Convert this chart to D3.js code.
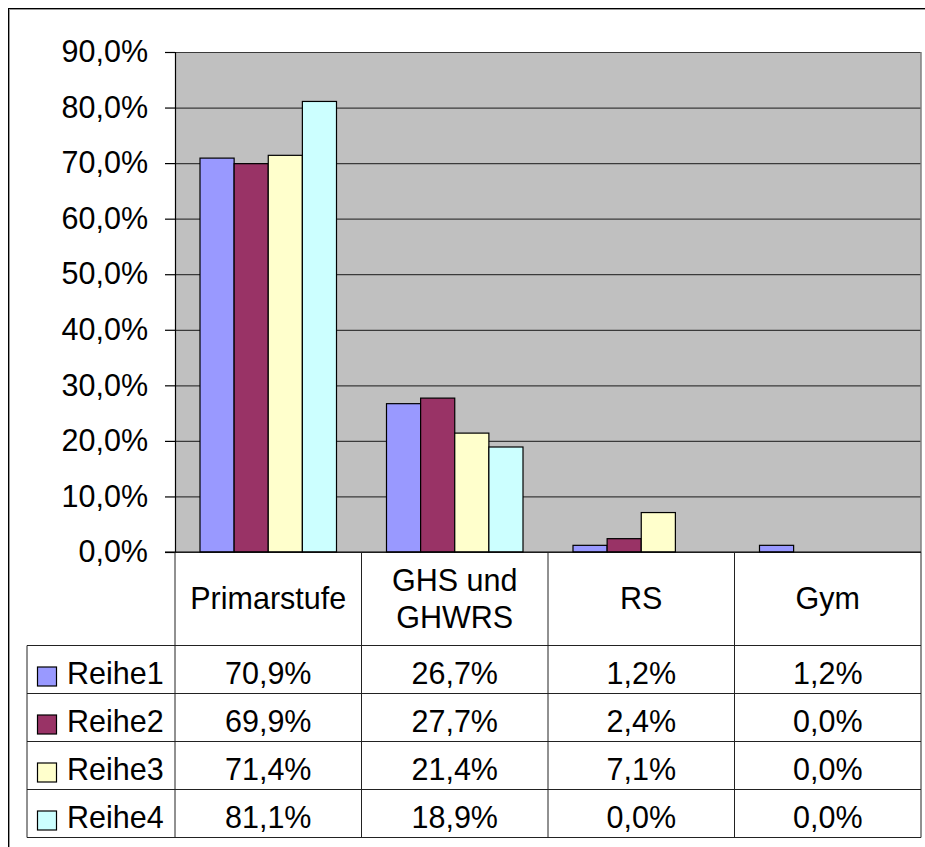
<!DOCTYPE html>
<html>
<head>
<meta charset="utf-8">
<script src="https://cdn.jsdelivr.net/npm/d3@7"></script>
<style>
  html, body { margin: 0; padding: 0; background: #fff; }
  svg { display: block; font-family: 'Liberation Sans', Arial, sans-serif; }
</style>
</head>
<body>
<div id="chart"></div>
<script>
// data
let categories = ['Primarstufe', 'GHS und\nGHWRS', 'RS', 'Gym'];
let seriesNames = ['Reihe1', 'Reihe2', 'Reihe3', 'Reihe4'];
let reihe1 = [0.709, 0.267, 0.012, 0.012];
let reihe2 = [0.699, 0.277, 0.024, 0.0];
let reihe3 = [0.714, 0.214, 0.071, 0.0];
let reihe4 = [0.811, 0.189, 0.0, 0.0];
let yTicks = [0, 0.1, 0.2, 0.3, 0.4, 0.5, 0.6, 0.7, 0.8, 0.9];
let colors = ['#9999ff', '#993366', '#ffffcc', '#ccffff'];

let series = [reihe1, reihe2, reihe3, reihe4];

let W = 925, H = 847;
let plot = { left: 175, right: 921, top: 52, bottom: 552 };
let table = { left: 27, header: 645.5, rowH: 48 };
let fontSize = 30.5;

let locale = d3.formatLocale({ decimal: ',', thousands: '.', grouping: [3], currency: ['', '€'] });
let pct = locale.format('.1%');

const svg = d3.select('#chart').append('svg')
  .attr('width', W).attr('height', H);

// outer frame (runs off right / bottom)
svg.append('rect')
  .attr('x', 9.5).attr('y', 9.5).attr('width', 1000).attr('height', 1000)
  .attr('fill', 'none').attr('stroke', '#999').attr('stroke-width', 1);
svg.append('rect')
  .attr('x', 8.5).attr('y', 8.5).attr('width', 1000).attr('height', 1000)
  .attr('fill', 'none').attr('stroke', '#000').attr('stroke-width', 1);

let y = d3.scaleLinear().domain([0, 0.9]).range([plot.bottom, plot.top]);

let x0 = d3.scaleBand().domain(d3.range(categories.length))
  .range([plot.left, plot.right]);

let x1 = d3.scaleBand().domain(d3.range(seriesNames.length))
  .range([25, x0.bandwidth() - 25]);

// plot background
svg.append('rect')
  .attr('x', plot.left).attr('y', plot.top)
  .attr('width', plot.right - plot.left).attr('height', plot.bottom - plot.top)
  .attr('fill', '#c0c0c0');

// gridlines
svg.append('g').attr('class', 'grid')
  .attr('transform', `translate(${plot.left},0)`)
  .call(d3.axisLeft(y).tickValues(yTicks).tickSize(-(plot.right - plot.left)).tickFormat(''))
  .call((g) => g.select('.domain').remove())
  .call((g) => g.selectAll('line').attr('stroke', '#3a3a3a').attr('stroke-width', 1.2));

// bars
let bars = [];
series.forEach((vals, s) => {
  vals.forEach((v, c) => bars.push({ s: s, c: c, v: v }));
});

svg.append('g').attr('class', 'bars')
  .selectAll('rect')
  .data(bars.filter((d) => d.v > 0))
  .join('rect')
  .attr('x', (d) => x0(d.c) + x1(d.s))
  .attr('y', (d) => y(d.v))
  .attr('width', x1.bandwidth())
  .attr('height', (d) => y(0) - y(d.v))
  .attr('fill', (d) => colors[d.s])
  .attr('stroke', '#000')
  .attr('stroke-width', 1.2);

// plot right border
svg.append('line')
  .attr('x1', plot.right).attr('x2', plot.right)
  .attr('y1', plot.top).attr('y2', plot.bottom)
  .attr('stroke', '#808080').attr('stroke-width', 1.5);

// y axis
svg.append('g').attr('class', 'y-axis')
  .attr('transform', `translate(${plot.left},0)`)
  .call(d3.axisLeft(y).tickValues(yTicks).tickSize(10).tickPadding(17).tickFormat(pct))
  .call((g) => g.select('.domain').attr('stroke', '#000').attr('stroke-width', 1.2))
  .call((g) => g.selectAll('line').attr('stroke', '#000').attr('stroke-width', 1.2))
  .call((g) => g.selectAll('text')
    .attr('font-size', fontSize).attr('fill', '#000')
    .attr('font-family', "'Liberation Sans', Arial, sans-serif"));

// data table
let tableBottom = table.header + table.rowH * seriesNames.length;
let tg = svg.append('g').attr('class', 'table');

// axis line / table top
tg.append('line')
  .attr('x1', plot.left - 10).attr('x2', plot.right)
  .attr('y1', plot.bottom).attr('y2', plot.bottom)
  .attr('stroke', '#000').attr('stroke-width', 1.2);

// horizontal row lines
tg.selectAll('.hline')
  .data(d3.range(seriesNames.length + 1))
  .join('line')
  .attr('class', 'hline')
  .attr('x1', table.left).attr('x2', plot.right)
  .attr('y1', (i) => table.header + i * table.rowH)
  .attr('y2', (i) => table.header + i * table.rowH)
  .attr('stroke', '#222').attr('stroke-width', 1);

// vertical lines
let colEdges = categories.map((c, i) => x0(i)).concat([plot.right]);
tg.selectAll('.vline')
  .data(colEdges)
  .join('line')
  .attr('class', 'vline')
  .attr('x1', (d) => d).attr('x2', (d) => d)
  .attr('y1', plot.bottom).attr('y2', tableBottom)
  .attr('stroke', '#222').attr('stroke-width', 1);

tg.append('line')
  .attr('x1', table.left).attr('x2', table.left)
  .attr('y1', table.header).attr('y2', tableBottom)
  .attr('stroke', '#222').attr('stroke-width', 1);

// category headers
let headerMid = (plot.bottom + table.header) / 2;
categories.forEach((c, i) => {
  let lines = c.split('\n');
  let t = tg.append('text')
    .attr('x', x0(i) + x0.bandwidth() / 2)
    .attr('text-anchor', 'middle')
    .attr('font-size', fontSize)
    .attr('fill', '#000');
  lines.forEach((ln, k) => {
    t.append('tspan')
      .attr('x', x0(i) + x0.bandwidth() / 2)
      .attr('y', headerMid + (k - (lines.length - 1) / 2) * 37)
      .attr('dy', '0.35em')
      .text(ln);
  });
});

// rows (text sits a bit below the row centre, like the original)
seriesNames.forEach((name, s) => {
  let mid = table.header + (s + 0.5) * table.rowH;
  let base = mid + 14.5;
  tg.append('rect')
    .attr('x', 37.5).attr('y', mid - 2.5)
    .attr('width', 19).attr('height', 19)
    .attr('fill', colors[s]).attr('stroke', '#000').attr('stroke-width', 1.2);
  tg.append('text')
    .attr('x', 67).attr('y', base)
    .attr('font-size', fontSize).attr('fill', '#000')
    .text(name);
  series[s].forEach((v, c) => {
    tg.append('text')
      .attr('x', x0(c) + x0.bandwidth() / 2).attr('y', base)
      .attr('text-anchor', 'middle')
      .attr('font-size', fontSize).attr('fill', '#000')
      .text(pct(v));
  });
});
</script>
</body>
</html>
